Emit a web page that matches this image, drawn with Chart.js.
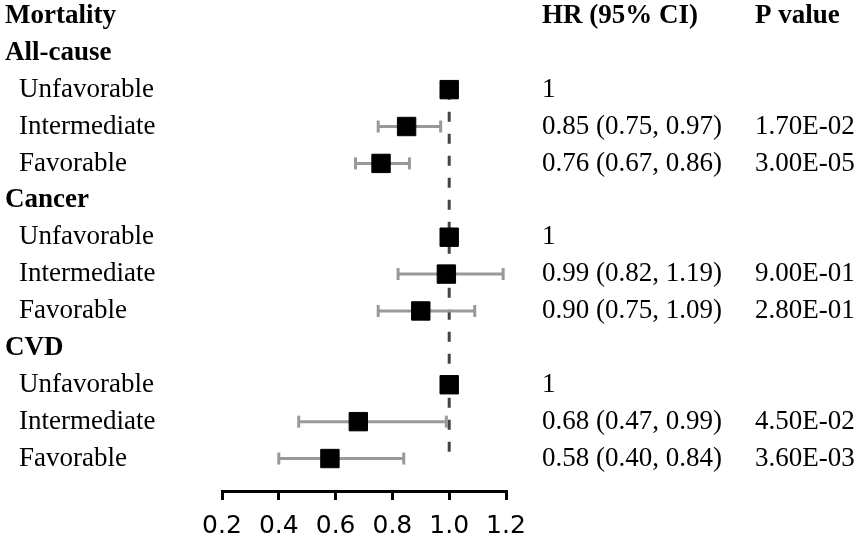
<!DOCTYPE html>
<html>
<head>
<meta charset="utf-8">
<script src="https://cdn.jsdelivr.net/npm/chart.js@4.4.1/dist/chart.umd.min.js"></script>
<style>
  html, body { margin: 0; padding: 0; background: #fff; }
  #wrap { width: 863px; height: 540px; }
</style>
</head>
<body>
<div id="wrap"><canvas id="forest" width="863" height="540"></canvas></div>
<script>
// ── Data ────────────────────────────────────────────
// row 0 is the column header row; rows 1..12 are the table rows
const rowLabels = ['All-cause', 'Unfavorable', 'Intermediate', 'Favorable',
                   'Cancer', 'Unfavorable', 'Intermediate', 'Favorable',
                   'CVD', 'Unfavorable', 'Intermediate', 'Favorable'];
const isGroup   = [true, false, false, false, true, false, false, false, true, false, false, false];
const hr        = [null, 1, 0.85, 0.76, null, 1, 0.99, 0.90, null, 1, 0.68, 0.58];
const lower     = [null, null, 0.75, 0.67, null, null, 0.82, 0.75, null, null, 0.47, 0.40];
const upper     = [null, null, 0.97, 0.86, null, null, 1.19, 1.09, null, null, 0.99, 0.84];
const hrText    = ['', '1', '0.85 (0.75, 0.97)', '0.76 (0.67, 0.86)',
                   '', '1', '0.99 (0.82, 1.19)', '0.90 (0.75, 1.09)',
                   '', '1', '0.68 (0.47, 0.99)', '0.58 (0.40, 0.84)'];
const pText     = ['', '', '1.70E-02', '3.00E-05',
                   '', '', '9.00E-01', '2.80E-01',
                   '', '', '4.50E-02', '3.60E-03'];
const headers   = ['Mortality', 'HR (95% CI)', 'P value'];
const xTicks    = [0.2, 0.4, 0.6, 0.8, 1.0, 1.2];
const refLine   = 1.0;

const SERIF = "'Liberation Serif', 'Times New Roman', serif";

// ── Datasets ────────────────────────────────────────
const markerPoints = [];
hr.forEach((v, i) => { if (v !== null) markerPoints.push({ x: v, y: i + 1 }); });

const ciSets = [];
lower.forEach((lo, i) => {
  if (lo === null) return;
  ciSets.push({
    type: 'line',
    data: [{ x: lo, y: i + 1 }, { x: upper[i], y: i + 1 }],
    borderColor: '#999',
    borderWidth: 3,
    pointStyle: 'line',
    pointRotation: 90,
    pointRadius: 6,
    pointBorderWidth: 3,
    pointBorderColor: '#999',
    order: 1,
  });
});

// text columns drawn beside the plot, row positions from the y scale
const tablePlugin = {
  id: 'tableText',
  afterDraw(chart) {
    const ctx = chart.ctx;
    const y = chart.scales.y;
    ctx.save();
    ctx.fillStyle = '#000';
    ctx.textBaseline = 'middle';
    ctx.textAlign = 'left';

    ctx.font = `bold 27px ${SERIF}`;
    const y0 = y.getPixelForValue(0);
    ctx.fillText(headers[0], 5, y0);
    ctx.fillText(headers[1], 542, y0);
    ctx.fillText(headers[2], 755, y0);

    rowLabels.forEach((lab, i) => {
      const py = y.getPixelForValue(i + 1);
      ctx.font = (isGroup[i] ? 'bold ' : '') + `27px ${SERIF}`;
      ctx.fillText(lab, isGroup[i] ? 5 : 19, py);
      ctx.font = `27px ${SERIF}`;
      if (hrText[i]) ctx.fillText(hrText[i], 542, py);
      if (pText[i]) ctx.fillText(pText[i], 755, py);
    });
    ctx.restore();
  },
};

new Chart(document.getElementById('forest'), {
  type: 'scatter',
  data: {
    datasets: [
      {
        data: markerPoints,
        pointStyle: 'rect',
        pointRadius: 13,
        pointHoverRadius: 13,
        backgroundColor: '#000',
        borderColor: '#000',
        borderWidth: 1,
        order: 0,
      },
      ...ciSets,
      {
        type: 'line',
        data: [{ x: refLine, y: 2 }, { x: refLine, y: 12 }],
        borderColor: '#444',
        borderWidth: 3,
        borderDash: [10, 12],
        pointRadius: 0,
        order: 2,
      },
    ],
  },
  options: {
    responsive: false,
    animation: false,
    devicePixelRatio: 1,
    layout: { padding: { left: 222, right: 357, top: 0, bottom: -13 } },
    plugins: { legend: { display: false }, tooltip: { enabled: false } },
    scales: {
      x: {
        type: 'linear',
        min: 0.2,
        max: 1.2,
        afterBuildTicks: (scale) => { scale.ticks = xTicks.map(v => ({ value: v })); },
        ticks: {
          color: '#000',
          padding: 14,
          font: { family: "'DejaVu Sans', sans-serif", size: 25, lineHeight: 1.0 },
          callback: (v) => Number(v).toFixed(1),
        },
        grid: { drawOnChartArea: false, drawTicks: true, tickLength: 9, color: '#000', lineWidth: 3 },
        border: { display: true, color: '#000', width: 3 },
      },
      y: {
        type: 'linear',
        display: false,
        reverse: true,
        min: -0.05,
        max: 12.88,
        ticks: { display: false },
      },
    },
  },
  plugins: [tablePlugin],
});
</script>
</body>
</html>
